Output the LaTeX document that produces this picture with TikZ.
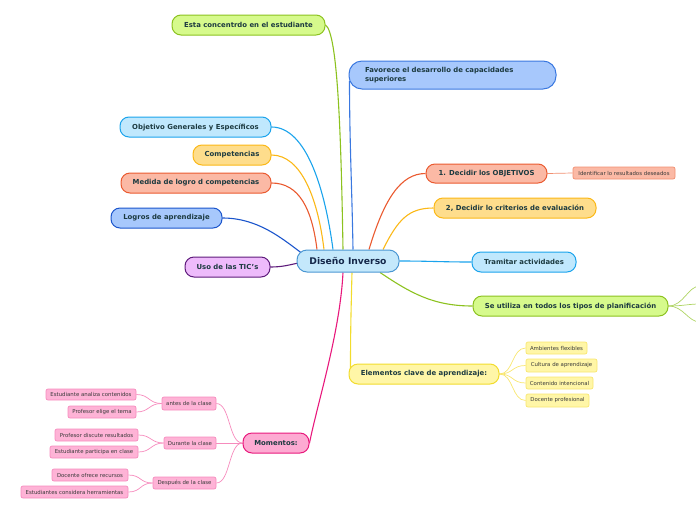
\documentclass[tikz,border=0pt]{standalone}
\usepackage{fontspec}
\setmainfont{DejaVu Sans}
\usetikzlibrary{calc,backgrounds}
\definecolor{txt}{HTML}{1C3A40}
\definecolor{ctxt}{HTML}{15284A}
\definecolor{subtxt}{HTML}{3A3A3A}
\definecolor{cF}{HTML}{C4E8FB}\definecolor{cD}{HTML}{4B97D3}
\definecolor{gF}{HTML}{D6FA8C}\definecolor{gD}{HTML}{8CC21F}
\definecolor{bF}{HTML}{A7C8FC}\definecolor{bD}{HTML}{3A78E0}
\definecolor{cyF}{HTML}{C0E8FD}\definecolor{cyD}{HTML}{1AA3EC}
\definecolor{yF}{HTML}{FEDD8C}\definecolor{yD}{HTML}{FBB817}
\definecolor{oF}{HTML}{FBB9A5}\definecolor{oD}{HTML}{EA5A30}\definecolor{oL}{HTML}{F18F70}
\definecolor{dbD}{HTML}{1B55CC}
\definecolor{vF}{HTML}{EEBBFB}\definecolor{vD}{HTML}{5E1B7B}
\definecolor{pF}{HTML}{FDAAD2}\definecolor{pD}{HTML}{E8197C}
\definecolor{psF}{HTML}{FEB3D6}\definecolor{psD}{HTML}{F68BBD}
\definecolor{lyF}{HTML}{FFF6A7}\definecolor{lyD}{HTML}{F2DC2D}\definecolor{lyL}{HTML}{F8E66F}
\begin{document}
\begin{tikzpicture}[x=1pt,y=-1pt,
  sz/.style 2 args={minimum width=#1pt, minimum height=#2pt},
  topic/.style={draw, line width=1pt, rounded corners=9pt, inner sep=0pt,
    font=\fontsize{6.9}{8.6}\selectfont\bfseries, text=txt, align=center},
  subn/.style={draw, line width=0.7pt, rounded corners=2pt, inner sep=0pt,
    font=\fontsize{5.4}{6.5}\selectfont, text=subtxt},
  conn/.style={line width=1.1pt},
  subconn/.style={line width=0.7pt}]
\useasboundingbox (0,0) rectangle (696,520);

% central
\node[draw=cD, fill=cF, line width=1pt, rounded corners=10pt, inner sep=0pt, sz={102}{22},
  font=\fontsize{9.2}{11}\selectfont\bfseries, text=ctxt] (c) at (348,261) {Diseño Inverso};

% main topics
\node[topic, fill=gF, draw=gD, sz={153}{20}] (esta) at (248.5,25) {Esta concentrdo en el estudiante};
\node[topic, fill=bF, draw=bD, sz={207}{28}, rounded corners=13pt, text width=175pt, align=left] (fav) at (452.5,75) {Favorece el desarrollo de capacidades\\superiores};
\node[topic, fill=cyF, draw=cyD, sz={151}{20}] (obj) at (195.5,127) {Objetivo Generales y Específicos};
\node[topic, fill=yF, draw=yD, sz={78}{20}] (comp) at (232,155) {Competencias};
\node[topic, fill=oF, draw=oD, sz={150}{20}] (med) at (196,183) {Medida de logro d competencias};
\node[topic, fill=bF, draw=dbD, sz={111}{20}] (log) at (166.5,218) {Logros de aprendizaje};
\node[topic, fill=vF, draw=vD, sz={85}{20}] (uso) at (227.5,267) {Uso de las TIC's};
\node[topic, fill=pF, draw=pD, sz={66}{20}] (mom) at (276,443) {Momentos:};
\node[topic, fill=oF, draw=oD, sz={121}{19}] (d1) at (486.5,173.5) {1. Decidir los OBJETIVOS};
\node[topic, fill=yF, draw=yD, sz={162}{20}] (d2) at (515,208) {2, Decidir lo criterios de evaluación};
\node[topic, fill=cyF, draw=cyD, sz={104}{20}] (tram) at (524,262) {Tramitar actividades};
\node[topic, fill=gF, draw=gD, sz={195}{20}] (se) at (570.5,306) {Se utiliza en todos los tipos de planificación};
\node[topic, fill=lyF, draw=lyD, sz={150}{20}] (elem) at (424,374) {Elementos clave de aprendizaje:};

% subtopics
\node[subn, fill=oF, draw=oL, sz={102}{12}] (id) at (624,173) {Identificar lo resultados deseados};
\node[subn, fill=lyF, draw=lyL, sz={61}{12}] (amb) at (556.5,348) {Ambientes flexibles};
\node[subn, fill=lyF, draw=lyL, sz={71}{13}] (cult) at (561.5,365.5) {Cultura de aprendizaje};
\node[subn, fill=lyF, draw=lyL, sz={67}{12}] (cont) at (559.5,383) {Contenido intencional};
\node[subn, fill=lyF, draw=lyL, sz={63}{13}] (doc) at (557.5,400.5) {Docente profesional};
\node[subn, fill=psF, draw=psD, sz={54}{13}] (antes) at (189,403.5) {antes de la clase};
\node[subn, fill=psF, draw=psD, sz={52}{12}] (dur) at (190,443) {Durante la clase};
\node[subn, fill=psF, draw=psD, sz={63}{12}] (desp) at (184.5,483) {Después de la clase};
\node[subn, fill=psF, draw=psD, sz={90}{11}] (ea) at (91,394.5) {Estudiante analiza contenidos};
\node[subn, fill=psF, draw=psD, sz={68}{12}] (pe) at (102,412) {Profesor elige el tema};
\node[subn, fill=psF, draw=psD, sz={83}{12}] (pd) at (96.5,435) {Profesor discute resultados};
\node[subn, fill=psF, draw=psD, sz={88}{12}] (ep) at (94,452) {Estudiante participa en clase};
\node[subn, fill=psF, draw=psD, sz={76}{12}] (dor) at (90,475) {Docente ofrece recursos};
\node[subn, fill=psF, draw=psD, sz={107}{12}] (ech) at (74.5,492) {Estudiantes considera herramientas};

\coordinate (r1) at (700,286);
\coordinate (r2) at (700,304);
\coordinate (r3) at (700,322);

\begin{scope}[on background layer]
% main connectors
\draw[conn, gD] (esta.east) .. controls +(12,8) and +(-2,-120) .. ($(c.north)+(-5,0)$);
\draw[conn, bD] ($(fav.west)+(1,6)$) .. controls +(0,60) and +(-1,-60) .. ($(c.north)+(5,0)$);
\draw[conn, cyD] (obj.east) .. controls +(35,0) and +(-8,-60) .. ($(c.north)+(-15,0)$);
\draw[conn, yD] (comp.east) .. controls +(30,0) and +(-6,-50) .. ($(c.north)+(-24,0)$);
\draw[conn, oD] (med.east) .. controls +(28,0) and +(-5,-40) .. ($(c.north)+(-31,0)$);
\draw[conn, dbD] (log.east) .. controls +(35,0) and +(-20,-15) .. ($(c.west)+(5,-8)$);
\draw[conn, vD] (uso.east) .. controls +(12,0) and +(-10,2) .. ($(c.west)+(2,2)$);
\draw[conn, pD] ($(c.south)+(-5,0)$) .. controls +(-3,60) and +(8,-40) .. (mom.east);
\draw[conn, lyD] ($(c.south)+(4,0)$) .. controls +(-1,40) and +(0,-40) .. ($(elem.west)+(2,-4)$);
\draw[conn, oD] ($(c.north)+(21,0)$) .. controls +(15,-50) and +(-25,0) .. (d1.west);
\draw[conn, yD] ($(c.north)+(35,0)$) .. controls +(15,-30) and +(-25,0) .. (d2.west);
\draw[conn, cyD] (c.east) .. controls +(30,0) and +(-30,0) .. (tram.west);
\draw[conn, gD] ($(c.south)+(32,0)$) .. controls +(30,20) and +(-40,0) .. (se.west);
% sub connectors
\draw[subconn, oL] (d1.east) -- (id.west);
\foreach \t in {r1,r2,r3}
  \draw[subconn, gD!70] (se.east) .. controls +(15,0) and +(-12,0) .. (\t);
\foreach \t in {amb,cult,cont,doc}
  \draw[subconn, lyL] (elem.east) .. controls +(14,0) and +(-14,0) .. (\t.west);
\foreach \t in {antes,dur,desp}
  \draw[subconn, psD] (mom.west) .. controls +(-14,0) and +(14,0) .. (\t.east);
\foreach \t in {ea,pe}
  \draw[subconn, psD] (antes.west) .. controls +(-13,0) and +(13,0) .. (\t.east);
\foreach \t in {pd,ep}
  \draw[subconn, psD] (dur.west) .. controls +(-13,0) and +(13,0) .. (\t.east);
\foreach \t in {dor,ech}
  \draw[subconn, psD] (desp.west) .. controls +(-13,0) and +(13,0) .. (\t.east);
\end{scope}
\end{tikzpicture}
\end{document}
